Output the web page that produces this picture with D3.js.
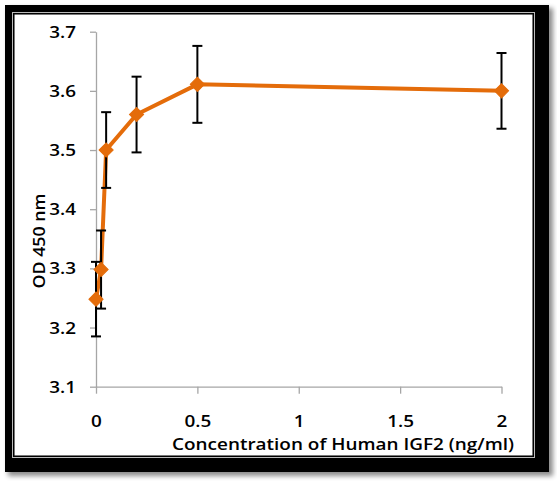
<!DOCTYPE html>
<html>
<head>
<meta charset="utf-8">
<script src="https://cdn.jsdelivr.net/npm/d3@7"></script>
<style>
html,body{margin:0;padding:0;background:#fff;}
svg{display:block;}
text{font-family:"Open Sans",sans-serif;font-weight:600;fill:#000;}
</style>
</head>
<body>
<svg id="c" width="557" height="482"></svg>
<script>
const concentrations = [0, 0.025, 0.05, 0.2, 0.5, 2];
const odValues = [3.248, 3.298, 3.50, 3.56, 3.611, 3.600];
const odErrors = [0.063, 0.066, 0.064, 0.064, 0.065, 0.064];
const xTicks = [0, 0.5, 1, 1.5, 2];
const xTickLabels = ["0", "0.5", "1", "1.5", "2"];
const yTicks = [3.1, 3.2, 3.3, 3.4, 3.5, 3.6, 3.7];
const yTickLabels = ["3.1", "3.2", "3.3", "3.4", "3.5", "3.6", "3.7"];
const xTitle = "Concentration of Human IGF2 (ng/ml)";
const yTitle = "OD 450 nm";

const FONT = "'Open Sans',sans-serif";
const svg = d3.select("#c");
const defs = svg.append("defs");
const f = defs.append("filter").attr("id","sh").attr("x","-5%").attr("y","-5%").attr("width","115%").attr("height","115%");
f.append("feGaussianBlur").attr("stdDeviation", 2.5);

// frame with shadow
svg.append("rect").attr("x",8).attr("y",8).attr("width",545).attr("height",468)
  .attr("fill","#000").attr("opacity",0.45).attr("filter","url(#sh)");
svg.append("rect").attr("x",5).attr("y",5).attr("width",544).attr("height",467).attr("fill","#000");
svg.append("rect").attr("x",12).attr("y",12).attr("width",523).attr("height",446).attr("fill","#bbb");
svg.append("rect").attr("x",13).attr("y",13).attr("width",521).attr("height",444).attr("fill","#000");
svg.append("rect").attr("x",14.5).attr("y",14.5).attr("width",518).attr("height",441).attr("fill","#eee");
svg.append("rect").attr("x",15).attr("y",15).attr("width",517).attr("height",440).attr("fill","#fff");

const x = d3.scaleLinear().domain([0, 2]).range([96, 501.5]);
const y = d3.scaleLinear().domain([3.1, 3.7]).range([386.7, 31.7]);

const axisColor = "#a6a6a6";
const STRETCH = 1.22;
// y axis
const ya = svg.append("g").attr("transform","translate(96,0)")
  .call(d3.axisLeft(y).tickValues(yTicks).tickSize(6).tickSizeOuter(0).tickFormat((d,i)=>yTickLabels[i]).tickPadding(14));
ya.select(".domain").attr("stroke",axisColor).attr("stroke-width",1.3);
ya.selectAll(".tick line").attr("stroke",axisColor).attr("stroke-width",1.3);
ya.selectAll(".tick text").attr("font-size",15.5).attr("font-family",FONT).attr("font-weight",600).attr("fill","#000")
  .attr("x",0).attr("dy","0.36em").attr("transform",`translate(-20,0) scale(${STRETCH},1)`);

// x axis
const xa = svg.append("g").attr("transform","translate(0,386.7)")
  .call(d3.axisBottom(x).tickValues(xTicks).tickSize(7).tickSizeOuter(0).tickFormat((d,i)=>xTickLabels[i]).tickPadding(0));
xa.select(".domain").attr("stroke",axisColor).attr("stroke-width",1.3);
xa.selectAll(".tick line").attr("stroke",axisColor).attr("stroke-width",1.3);
xa.selectAll(".tick text").attr("font-size",15.5).attr("font-family",FONT).attr("font-weight",600).attr("fill","#000")
  .attr("y",40.5).attr("dy",0).attr("transform",`scale(${STRETCH},1)`);

// titles
svg.append("text").attr("x",343).attr("y",450).attr("text-anchor","middle").attr("font-size",16.8)
  .attr("textLength",342).attr("lengthAdjust","spacingAndGlyphs").text(xTitle);
svg.append("text").attr("transform","translate(45,241) rotate(-90)").attr("text-anchor","middle").attr("font-size",16.8)
  .attr("textLength",95).attr("lengthAdjust","spacingAndGlyphs").text(yTitle);

const pts = concentrations.map((c,i)=>({x:c, y:odValues[i], e:odErrors[i]}));

// line
svg.append("path").datum(pts)
  .attr("d", d3.line().x(d=>x(d.x)).y(d=>y(d.y)))
  .attr("fill","none").attr("stroke","#E46C0A").attr("stroke-width",4).attr("stroke-linejoin","round");

// error bars
const eb = svg.append("g").attr("stroke","#000").attr("stroke-width",2).attr("fill","none");
pts.forEach(d=>{
  const cx = x(d.x), t = y(d.y + d.e), b = y(d.y - d.e);
  eb.append("line").attr("x1",cx).attr("x2",cx).attr("y1",t).attr("y2",b);
  eb.append("line").attr("x1",cx-5).attr("x2",cx+5).attr("y1",t).attr("y2",t);
  eb.append("line").attr("x1",cx-5).attr("x2",cx+5).attr("y1",b).attr("y2",b);
});

// markers
svg.append("g").selectAll("path").data(pts).join("path")
  .attr("d", d3.symbol(d3.symbolSquare, 100)())
  .attr("transform", d=>`translate(${x(d.x)},${y(d.y)}) rotate(45)`)
  .attr("fill","#E46C0A").attr("stroke","#E46C0A").attr("stroke-width",1);
</script>
</body>
</html>
